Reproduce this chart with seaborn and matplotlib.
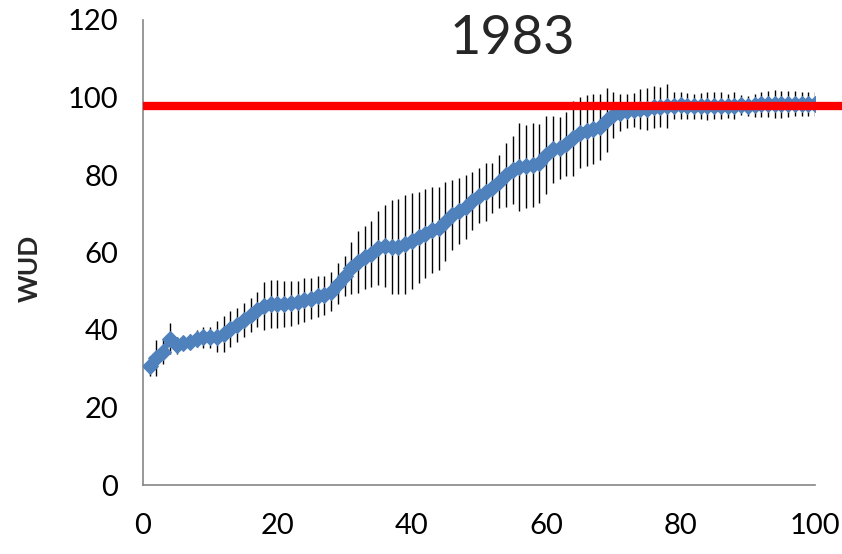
import numpy as np
import pandas as pd
import matplotlib
matplotlib.use("Agg")
import matplotlib.pyplot as plt
import seaborn as sns

# Day index and mean WUD with its spread
days = list(range(1, 101))
wud_mean = [
    30.7, 32.8, 34.4, 37.8, 36.1, 36.6, 37.0, 37.8, 38.1, 38.1,
    38.3, 39.0, 40.2, 41.3, 42.6, 43.9, 45.2, 46.2, 46.7, 46.7,
    46.7, 46.9, 47.1, 47.7, 48.1, 48.7, 49.0, 49.9, 52.0, 53.9,
    55.9, 57.6, 58.8, 59.6, 61.1, 61.7, 61.5, 61.5, 62.1, 63.0,
    63.9, 64.8, 65.8, 66.2, 68.0, 69.7, 70.7, 71.7, 73.4, 74.7,
    75.7, 76.6, 78.3, 80.0, 81.3, 82.0, 82.2, 82.6, 83.0, 85.2,
    86.6, 86.9, 88.0, 89.5, 90.9, 91.4, 91.8, 92.5, 94.2, 95.5,
    96.1, 96.6, 96.8, 97.0, 97.0, 97.5, 97.6, 97.8, 97.9, 98.0,
    97.8, 97.7, 97.8, 97.8, 97.9, 97.9, 97.8, 97.9, 98.0, 97.9,
    98.0, 98.2, 98.3, 98.4, 98.3, 98.4, 98.4, 98.3, 98.4, 98.3,
]
wud_err = [
    2.5, 4.7, 3.2, 4.1, 2.2, 1.5, 2.0, 2.2, 2.8, 2.8,
    4.1, 4.7, 4.7, 4.5, 4.3, 4.3, 4.5, 6.2, 6.2, 6.2,
    6.0, 5.8, 5.6, 5.6, 5.3, 5.3, 5.0, 5.0, 5.2, 5.2,
    6.7, 8.0, 8.1, 8.5, 9.5, 10.5, 12.1, 12.3, 12.8, 12.3,
    11.8, 11.5, 11.0, 10.8, 10.2, 9.1, 8.4, 8.2, 7.5, 7.2,
    7.5, 6.5, 6.9, 8.3, 8.8, 11.3, 10.8, 10.9, 10.1, 10.1,
    8.7, 8.0, 8.2, 9.7, 9.2, 9.2, 9.0, 8.5, 8.3, 6.0,
    4.7, 4.4, 4.3, 5.2, 5.4, 5.4, 5.2, 5.7, 3.4, 3.5,
    3.4, 3.2, 3.4, 3.6, 3.4, 3.4, 3.2, 3.4, 2.6, 2.6,
    3.0, 3.2, 3.4, 3.6, 3.5, 3.4, 3.3, 3.2, 3.1, 3.0,
]
threshold = 97.8
title_text = "1983"
y_label = "WUD"
x_ticks = [0, 20, 40, 60, 80, 100]
y_ticks = [0, 20, 40, 60, 80, 100, 120]

df = pd.DataFrame({"day": days, "wud": wud_mean, "err": wud_err})

sns.set_style("white")
plt.rcParams["font.family"] = ["Lato", "DejaVu Sans"]

fig = plt.figure(figsize=(8.42, 5.54), dpi=100)
ax = fig.add_axes([143 / 842, 1 - 485 / 554, (815 - 143) / 842, (485 - 20) / 554])

# vertical spread bars behind the mean curve
ax.errorbar(df["day"], df["wud"], yerr=df["err"], fmt="none",
            ecolor="black", elinewidth=1.0, capsize=0, zorder=2)

sns.lineplot(data=df, x="day", y="wud", ax=ax, color="#4F81BD",
             linewidth=4.5, marker="D", markersize=8,
             markeredgecolor="#4F81BD", zorder=3)

# threshold line running past the plot edge
ax.plot([0, 1.1], [threshold, threshold], color="#FF0000",
        linewidth=6, transform=ax.get_yaxis_transform(), clip_on=False,
        solid_capstyle="butt", zorder=5)

ax.set_xlim(0, 100)
ax.set_ylim(0, 120)
ax.set_xticks(x_ticks)
ax.set_yticks(y_ticks)
ax.tick_params(axis="both", which="major", labelsize=21, length=8,
               width=1, color="#868686", direction="out", pad=12,
               labelcolor="black")
ax.tick_params(axis="y", pad=10)

for side in ["top", "right"]:
    ax.spines[side].set_visible(False)
for side in ["left", "bottom"]:
    ax.spines[side].set_color("#868686")
    ax.spines[side].set_linewidth(1.2)

ax.set_xlabel("")
ax.set_ylabel("")
fig.text(30 / 842, 1 - 268 / 554, y_label, rotation=90, ha="center",
         va="center", fontsize=19, fontweight="bold")
fig.text(512 / 842, 1 - 38 / 554, title_text, ha="center", va="center",
         fontsize=39)

fig.savefig("out.png", dpi=100)
